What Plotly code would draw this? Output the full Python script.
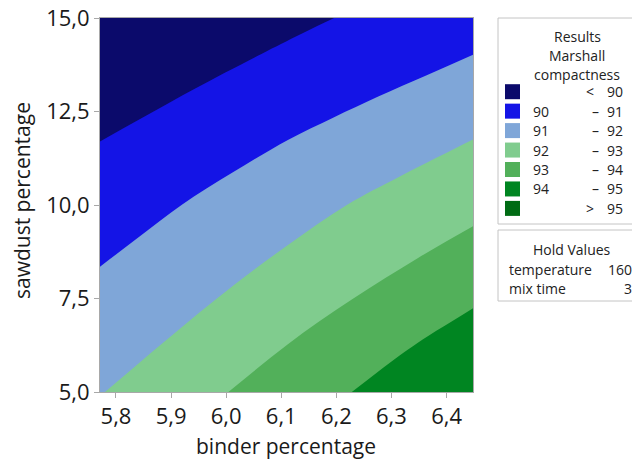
import plotly.graph_objects as go

# ---------------- data ----------------
x_range = [5.771, 6.448]   # binder percentage
y_range = [5.0, 15.0]      # sawdust percentage
x_ticks = [5.8, 5.9, 6.0, 6.1, 6.2, 6.3, 6.4]
y_ticks = [5.0, 7.5, 10.0, 12.5, 15.0]

# contour boundary lines (x = binder, y = sawdust)
b90_x = [5.771, 5.856, 5.943, 6.064, 6.134, 6.196]
b90_y = [11.70, 12.40, 13.11, 14.04, 14.56, 15.00]

b91_x = [5.771, 5.844, 5.919, 6.013, 6.112, 6.195, 6.276, 6.364, 6.448]
b91_y = [8.35, 9.17, 10.00, 10.88, 11.74, 12.34, 12.90, 13.47, 14.02]

b92_x = [5.780, 5.892, 6.013, 6.116, 6.219, 6.316, 6.448]
b92_y = [5.00, 6.40, 7.85, 8.97, 10.00, 10.77, 11.75]

b93_x = [6.004, 6.112, 6.228, 6.349, 6.448]
b93_y = [5.00, 6.28, 7.47, 8.59, 9.43]

b94_x = [6.228, 6.285, 6.346, 6.448]
b94_y = [5.00, 5.65, 6.30, 7.24]

band_colors = ["#0b0a6b", "#1414e6", "#7fa6d8", "#80cc8e", "#52b05a", "#008521", "#006b14"]
legend_low = ["", "90", "91", "92", "93", "94", ""]
legend_sym = ["<", "–", "–", "–", "–", "–", ">"]
legend_high = ["90", "91", "92", "93", "94", "95", "95"]
legend_title = ["Results", "Marshall", "compactness"]

hold_names = ["temperature", "mix time"]
hold_values = ["160", "3"]

FONT = "Open Sans"

# ---------------- figure ----------------
fig = go.Figure()
x0, x1 = x_range
y0, y1 = y_range

# background band (< 90)
fig.add_trace(go.Scatter(x=[x0, x1, x1, x0], y=[y0, y0, y1, y1], fill="toself",
                         fillcolor=band_colors[0], mode="lines", line=dict(width=0),
                         hoverinfo="skip", showlegend=False))


def region_below(bx, by):
    """Polygon of the part of the plot below/right of a boundary line.
    The line is continued past the plot edges (hidden by axis clipping) so that
    the smoothed outline stays clean inside the plot."""
    xs, ys = list(bx), list(by)
    sx, sy = xs[0] - xs[1], ys[0] - ys[1]
    ex, ey = xs[-1] - xs[-2], ys[-1] - ys[-2]
    head_x = [xs[0] + 2 * sx, xs[0] + sx]
    head_y = [ys[0] + 2 * sy, ys[0] + sy]
    tail_x = [xs[-1] + ex, xs[-1] + 2 * ex]
    tail_y = [ys[-1] + ey, ys[-1] + 2 * ey]
    dx, dy = (x1 - x0), (y1 - y0)
    far_x = [x1 + dx, x1 + dx, x0 - dx]
    far_y = [y1 + dy, y0 - dy, y0 - dy]
    return head_x + xs + tail_x + far_x, head_y + ys + tail_y + far_y


bounds = [(b90_x, b90_y), (b91_x, b91_y), (b92_x, b92_y), (b93_x, b93_y), (b94_x, b94_y)]
for i, (bx, by) in enumerate(bounds):
    xs, ys = region_below(bx, by)
    fig.add_trace(go.Scatter(x=xs, y=ys, fill="toself", fillcolor=band_colors[i + 1],
                             mode="lines", line=dict(width=0, shape="spline", smoothing=1),
                             hoverinfo="skip", showlegend=False))

# page has an 8px body margin: figure is drawn from (8, 8)
OFF = 8
W, H = 640 - OFF, 460 - OFF
L, T = 100 - OFF, 18 - OFF
PW, PH = 373, 374
R, B = W - L - PW, H - T - PH


def px(x):
    # page pixel -> paper
    return (x - OFF - L) / PW


def py(y):
    return (H - B - (y - OFF)) / PH


shapes = []
ann = []
TXT = dict(family=FONT, size=14, color="#222")

# axis titles
ann.append(dict(xref="paper", yref="paper", x=px(286), y=py(446), text="binder percentage",
                showarrow=False, xanchor="center", yanchor="middle",
                font=dict(family=FONT, size=21, color="#1a1a1a")))
ann.append(dict(xref="paper", yref="paper", x=px(22), y=py(201), text="sawdust percentage",
                showarrow=False, xanchor="center", yanchor="middle", textangle=-90,
                font=dict(family=FONT, size=21, color="#1a1a1a")))

# legend box 1
shapes.append(dict(type="rect", xref="paper", yref="paper", x0=px(498), x1=px(639),
                   y0=py(224), y1=py(18), line=dict(color="#c4c4c4", width=1),
                   fillcolor="white", layer="above"))
for k, t in enumerate(legend_title):
    ann.append(dict(xref="paper", yref="paper", x=px(577), y=py(36.5 + 19 * k), text=t,
                    showarrow=False, xanchor="center", yanchor="middle", font=TXT))
for i in range(7):
    cy = 91.7 + i * 19.45
    shapes.append(dict(type="rect", xref="paper", yref="paper", x0=px(505), x1=px(520),
                       y0=py(cy + 7.5), y1=py(cy - 7.5), line=dict(width=0),
                       fillcolor=band_colors[i], layer="above"))
    if legend_low[i]:
        ann.append(dict(xref="paper", yref="paper", x=px(531), y=py(cy), text=legend_low[i],
                        showarrow=False, xanchor="left", yanchor="middle", font=TXT))
    sx = 595 if legend_sym[i] == "–" else 590
    ann.append(dict(xref="paper", yref="paper", x=px(sx), y=py(cy), text=legend_sym[i],
                    showarrow=False, xanchor="center", yanchor="middle", font=TXT,
                    borderpad=0))
    ann.append(dict(xref="paper", yref="paper", x=px(624), y=py(cy), text=legend_high[i],
                    showarrow=False, xanchor="right", yanchor="middle", font=TXT,
                    borderpad=0))

# legend box 2 (hold values)
shapes.append(dict(type="rect", xref="paper", yref="paper", x0=px(498), x1=px(639),
                   y0=py(301), y1=py(230), line=dict(color="#c4c4c4", width=1),
                   fillcolor="white", layer="above"))
ann.append(dict(xref="paper", yref="paper", x=px(572), y=py(249), text="Hold Values",
                showarrow=False, xanchor="center", yanchor="middle", font=TXT))
for k in range(2):
    cy = 269.5 + 18.5 * k
    ann.append(dict(xref="paper", yref="paper", x=px(507), y=py(cy), text=hold_names[k],
                    showarrow=False, xanchor="left", yanchor="middle", font=TXT))
    ann.append(dict(xref="paper", yref="paper", x=px(634), y=py(cy), text=hold_values[k],
                    showarrow=False, xanchor="right", yanchor="middle", font=TXT))

fig.update_layout(
    width=W, height=H,
    margin=dict(l=L, r=R, t=T, b=B, pad=0, autoexpand=False),
    paper_bgcolor="white", plot_bgcolor="white",
    separators=",.",
    font=dict(family=FONT, color="#222"),
    shapes=shapes, annotations=ann,
    xaxis=dict(range=x_range, tickvals=x_ticks, tickformat=".1f", showgrid=False,
               zeroline=False, showline=True, linecolor="#a8a8a8", mirror=True,
               ticks="outside", ticklen=5, tickcolor="#a8a8a8", automargin=False,
               ticklabeloverflow="allow",
               tickfont=dict(family=FONT, size=22, color="#1a1a1a")),
    yaxis=dict(range=y_range, tickvals=y_ticks, tickformat=".1f", showgrid=False,
               zeroline=False, showline=True, linecolor="#a8a8a8", mirror=True,
               ticks="outside", ticklen=5, tickcolor="#a8a8a8", automargin=False,
               ticklabeloverflow="allow",
               tickfont=dict(family=FONT, size=22, color="#1a1a1a")),
)

fig.write_html("out.html")
